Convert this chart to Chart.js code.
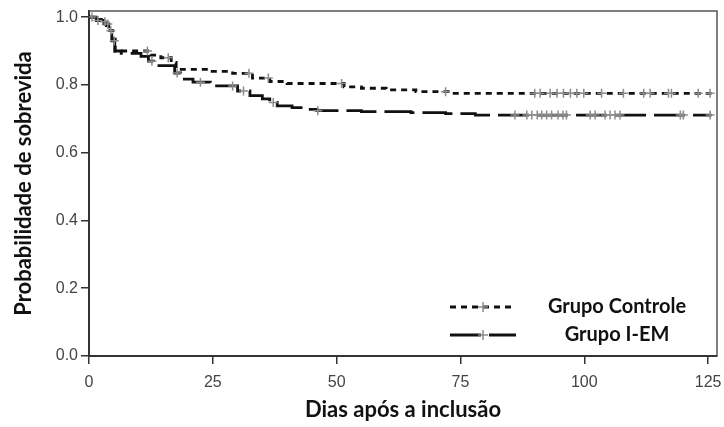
<!DOCTYPE html>
<html><head><meta charset="utf-8">
<script src="https://cdn.jsdelivr.net/npm/chart.js@4"></script>
<style>html,body{margin:0;padding:0;background:#fff;}#wrap{width:724px;height:427px;position:relative;}</style>
</head><body><div id="wrap"><canvas id="c" width="724" height="427"></canvas></div>
<script>
const xTicks = [0, 25, 50, 75, 100, 125];
const yTicks = [0, 0.2, 0.4, 0.6, 0.8, 1.0];
const seriesNames = ['Grupo Controle', 'Grupo I-EM'];
const xTitle = 'Dias após a inclusão';
const yTitle = 'Probabilidade de sobrevida';

// Kaplan-Meier steps (time in days, survival)
const ctrlTime = [0, 1, 2.5, 3.5, 4.2, 4.8, 5.3, 12.4, 14.5, 16.6, 17.6, 24, 29, 33, 36.5, 40, 51.5, 55, 60, 66, 72.5, 125.7];
const ctrlSurv = [1.0, 0.993, 0.986, 0.975, 0.96, 0.935, 0.9, 0.888, 0.88, 0.866, 0.846, 0.84, 0.834, 0.82, 0.81, 0.804, 0.794, 0.79, 0.785, 0.78, 0.775, 0.775];
const ctrlCensored = [0.6, 3.2, 4.4, 11.8, 16, 32.3, 36.2, 51, 72, 90, 91.1, 93.1, 94.5, 95.8, 97.2, 98.5, 99.9, 103.5, 107.9, 112, 113.3, 117, 117.6, 123, 125.4];

const iemTime = [0, 1.5, 3, 4, 4.6, 5.2, 6.5, 10.5, 12, 13, 17.3, 18.5, 21, 24.5, 30, 32.5, 35, 36.5, 38, 41, 43.5, 46, 55, 65, 72, 78, 125.7];
const iemSurv = [1.0, 0.99, 0.98, 0.96, 0.93, 0.9, 0.893, 0.884, 0.87, 0.857, 0.835, 0.817, 0.808, 0.797, 0.782, 0.768, 0.759, 0.748, 0.738, 0.733, 0.728, 0.724, 0.721, 0.718, 0.715, 0.711, 0.711];
const iemCensored = [1.8, 3.8, 5.1, 12.7, 17.8, 22.5, 29, 31.2, 37.2, 46.2, 86, 88.4, 89.4, 90.5, 91.4, 92.4, 93.4, 94.7, 95.7, 96.4, 101.2, 102.2, 104.2, 105.2, 106.2, 107.2, 119.4, 120, 125.4];

function stepAt(times, surv, t) {
  let v = surv[0];
  for (let i = 0; i < times.length; i++) { if (times[i] <= t) v = surv[i]; else break; }
  return v;
}
const toPts = (ts, ss) => ts.map((t, i) => ({x: t, y: ss[i]}));
const censPts = (cs, ts, ss) => cs.map(t => ({x: t, y: stepAt(ts, ss, t)}));

const lineStyles = [
  {dash: [6, 5]},
  {dash: [31, 8]}
];
const censColor = '#8c8c8c';

const frameLegend = {
  id: 'frameLegend',
  afterDraw(chart) {
    const {ctx, chartArea: a} = chart;
    ctx.save();
    ctx.strokeStyle = '#555';
    ctx.lineWidth = 1.5;
    ctx.beginPath();
    ctx.moveTo(a.left, a.top);
    ctx.lineTo(a.right, a.top);
    ctx.lineTo(a.right, a.bottom);
    ctx.stroke();
    // legend
    const rows = [307, 335];
    seriesNames.forEach((name, i) => {
      const y = rows[i];
      ctx.strokeStyle = '#111';
      ctx.lineWidth = 3;
      ctx.setLineDash(lineStyles[i].dash);
      ctx.beginPath();
      ctx.moveTo(450, y); ctx.lineTo(516, y);
      ctx.stroke();
      ctx.setLineDash([]);
      ctx.strokeStyle = censColor;
      ctx.lineWidth = 1.5;
      ctx.beginPath();
      ctx.moveTo(478, y); ctx.lineTo(488, y);
      ctx.moveTo(483, y - 5); ctx.lineTo(483, y + 5);
      ctx.stroke();
      ctx.fillStyle = '#111';
      ctx.font = 'bold 20px Lato';
      ctx.textAlign = 'center';
      ctx.textBaseline = 'middle';
      ctx.fillText(name, 617, y);
    });
    ctx.restore();
  }
};

new Chart(document.getElementById('c'), {
  type: 'line',
  data: {
    datasets: [
      {label: seriesNames[0] + ' censurado', data: censPts(ctrlCensored, ctrlTime, ctrlSurv), showLine: false,
       pointStyle: 'cross', pointRadius: 4.5, pointBorderColor: censColor, pointBorderWidth: 1.5, order: 0},
      {label: seriesNames[1] + ' censurado', data: censPts(iemCensored, iemTime, iemSurv), showLine: false,
       pointStyle: 'cross', pointRadius: 4.5, pointBorderColor: censColor, pointBorderWidth: 1.5, order: 0},
      {label: seriesNames[0], data: toPts(ctrlTime, ctrlSurv), stepped: true, borderColor: '#111', borderWidth: 2.8,
       borderDash: lineStyles[0].dash, pointRadius: 0, fill: false, order: 1},
      {label: seriesNames[1], data: toPts(iemTime, iemSurv), stepped: true, borderColor: '#111', borderWidth: 2.8,
       borderDash: lineStyles[1].dash, pointRadius: 0, fill: false, order: 1}
    ]
  },
  options: {
    responsive: false,
    animation: false,
    devicePixelRatio: 1,
    layout: {padding: {top: 11, right: 7, left: 0, bottom: 0}},
    plugins: {legend: {display: false}, tooltip: {enabled: false}},
    scales: {
      x: {
        type: 'linear', min: 0, max: 126.8,
        afterFit: s => { s.height = 71; s.paddingLeft = 0; s.paddingRight = 0; },
        afterBuildTicks: s => { s.ticks = xTicks.map(v => ({value: v})); },
        grid: {drawOnChartArea: false, drawTicks: true, tickLength: 8, color: '#333', lineWidth: 1.5},
        border: {display: true, color: '#333', width: 2},
        ticks: {color: '#444', font: {family: 'Liberation Sans', size: 16}, padding: 9, maxRotation: 0},
        title: {display: true, text: xTitle, color: '#111', font: {family: 'Lato', weight: 'bold', size: 22}, padding: {top: 0, bottom: 4}}
      },
      y: {
        type: 'linear', min: 0, max: 1.018,
        afterFit: s => { s.width = 89; s.paddingTop = 0; s.paddingBottom = 0; },
        afterBuildTicks: s => { s.ticks = yTicks.map(v => ({value: v})); },
        grid: {drawOnChartArea: false, drawTicks: true, tickLength: 8, color: '#333', lineWidth: 1.5},
        border: {display: true, color: '#333', width: 2},
        ticks: {color: '#444', font: {family: 'Liberation Sans', size: 16}, padding: 3, callback: v => v.toFixed(1)},
        title: {display: true, text: yTitle, color: '#111', font: {family: 'Lato', weight: 'bold', size: 22}, padding: {top: 11, bottom: 0}}
      }
    }
  },
  plugins: [frameLegend]
});
</script></body></html>
